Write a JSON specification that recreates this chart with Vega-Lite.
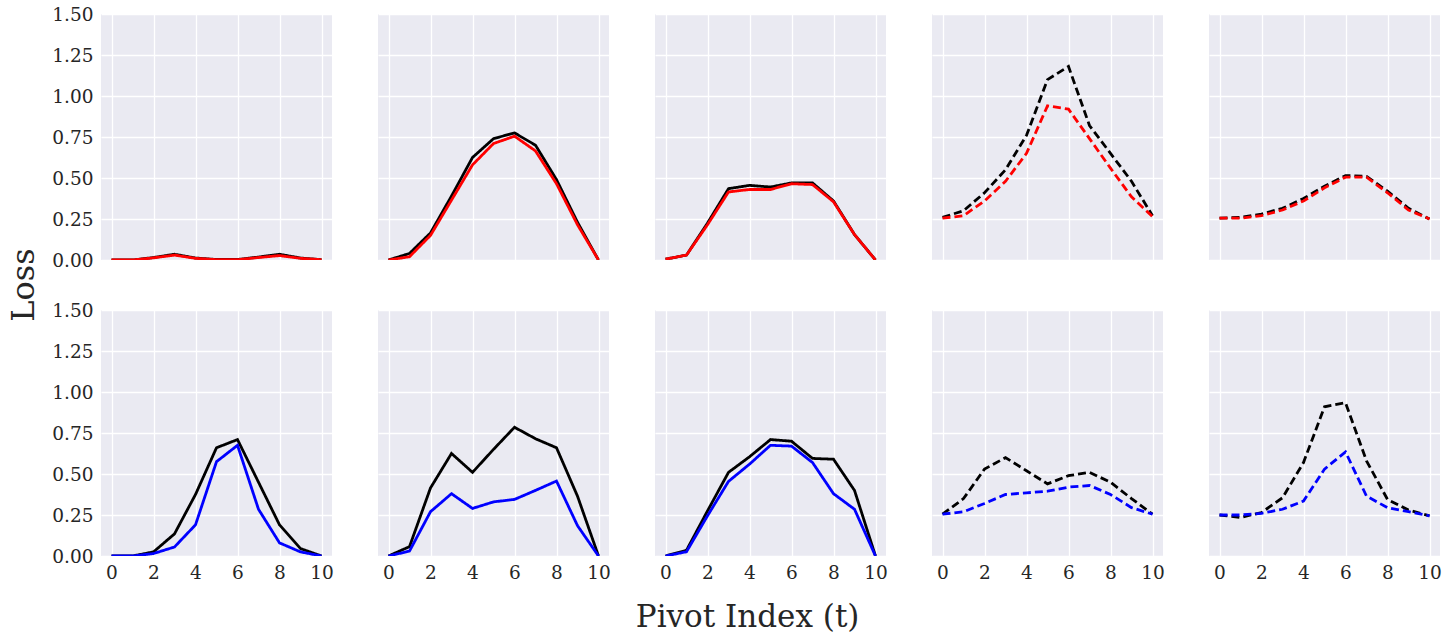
{
  "$schema": "https://vega.github.io/schema/vega-lite/v6.json",
  "padding": {"left": 8, "top": 5, "right": 5, "bottom": 5},
  "background": "white",
  "title": {"text": "Pivot Index (t)", "orient": "bottom", "anchor": "middle", "dx": 23, "offset": 21, "font": "DejaVu Serif", "fontSize": 31, "fontWeight": "normal", "color": "#262626"},
  "datasets": {
    "loss": [
      {"case":1,"setting":"top","method":"baseline","t":0,"loss":0},{"case":1,"setting":"top","method":"baseline","t":1,"loss":0},{"case":1,"setting":"top","method":"baseline","t":2,"loss":0.015},{"case":1,"setting":"top","method":"baseline","t":3,"loss":0.035},{"case":1,"setting":"top","method":"baseline","t":4,"loss":0.012},{"case":1,"setting":"top","method":"baseline","t":5,"loss":0.003},{"case":1,"setting":"top","method":"baseline","t":6,"loss":0.003},{"case":1,"setting":"top","method":"baseline","t":7,"loss":0.018},{"case":1,"setting":"top","method":"baseline","t":8,"loss":0.035},{"case":1,"setting":"top","method":"baseline","t":9,"loss":0.012},{"case":1,"setting":"top","method":"baseline","t":10,"loss":0.002},
      {"case":1,"setting":"top","method":"variant A","t":0,"loss":0},{"case":1,"setting":"top","method":"variant A","t":1,"loss":0},{"case":1,"setting":"top","method":"variant A","t":2,"loss":0.013},{"case":1,"setting":"top","method":"variant A","t":3,"loss":0.03},{"case":1,"setting":"top","method":"variant A","t":4,"loss":0.01},{"case":1,"setting":"top","method":"variant A","t":5,"loss":0.002},{"case":1,"setting":"top","method":"variant A","t":6,"loss":0.002},{"case":1,"setting":"top","method":"variant A","t":7,"loss":0.015},{"case":1,"setting":"top","method":"variant A","t":8,"loss":0.027},{"case":1,"setting":"top","method":"variant A","t":9,"loss":0.01},{"case":1,"setting":"top","method":"variant A","t":10,"loss":0.002},
      {"case":2,"setting":"top","method":"baseline","t":0,"loss":0},{"case":2,"setting":"top","method":"baseline","t":1,"loss":0.04},{"case":2,"setting":"top","method":"baseline","t":2,"loss":0.165},{"case":2,"setting":"top","method":"baseline","t":3,"loss":0.39},{"case":2,"setting":"top","method":"baseline","t":4,"loss":0.625},{"case":2,"setting":"top","method":"baseline","t":5,"loss":0.74},{"case":2,"setting":"top","method":"baseline","t":6,"loss":0.775},{"case":2,"setting":"top","method":"baseline","t":7,"loss":0.7},{"case":2,"setting":"top","method":"baseline","t":8,"loss":0.49},{"case":2,"setting":"top","method":"baseline","t":9,"loss":0.23},{"case":2,"setting":"top","method":"baseline","t":10,"loss":0},
      {"case":2,"setting":"top","method":"variant A","t":0,"loss":0},{"case":2,"setting":"top","method":"variant A","t":1,"loss":0.02},{"case":2,"setting":"top","method":"variant A","t":2,"loss":0.15},{"case":2,"setting":"top","method":"variant A","t":3,"loss":0.365},{"case":2,"setting":"top","method":"variant A","t":4,"loss":0.58},{"case":2,"setting":"top","method":"variant A","t":5,"loss":0.71},{"case":2,"setting":"top","method":"variant A","t":6,"loss":0.755},{"case":2,"setting":"top","method":"variant A","t":7,"loss":0.665},{"case":2,"setting":"top","method":"variant A","t":8,"loss":0.465},{"case":2,"setting":"top","method":"variant A","t":9,"loss":0.215},{"case":2,"setting":"top","method":"variant A","t":10,"loss":0},
      {"case":3,"setting":"top","method":"baseline","t":0,"loss":0.005},{"case":3,"setting":"top","method":"baseline","t":1,"loss":0.03},{"case":3,"setting":"top","method":"baseline","t":2,"loss":0.225},{"case":3,"setting":"top","method":"baseline","t":3,"loss":0.435},{"case":3,"setting":"top","method":"baseline","t":4,"loss":0.455},{"case":3,"setting":"top","method":"baseline","t":5,"loss":0.445},{"case":3,"setting":"top","method":"baseline","t":6,"loss":0.47},{"case":3,"setting":"top","method":"baseline","t":7,"loss":0.47},{"case":3,"setting":"top","method":"baseline","t":8,"loss":0.36},{"case":3,"setting":"top","method":"baseline","t":9,"loss":0.155},{"case":3,"setting":"top","method":"baseline","t":10,"loss":0},
      {"case":3,"setting":"top","method":"variant A","t":0,"loss":0.005},{"case":3,"setting":"top","method":"variant A","t":1,"loss":0.03},{"case":3,"setting":"top","method":"variant A","t":2,"loss":0.215},{"case":3,"setting":"top","method":"variant A","t":3,"loss":0.415},{"case":3,"setting":"top","method":"variant A","t":4,"loss":0.43},{"case":3,"setting":"top","method":"variant A","t":5,"loss":0.43},{"case":3,"setting":"top","method":"variant A","t":6,"loss":0.465},{"case":3,"setting":"top","method":"variant A","t":7,"loss":0.46},{"case":3,"setting":"top","method":"variant A","t":8,"loss":0.355},{"case":3,"setting":"top","method":"variant A","t":9,"loss":0.155},{"case":3,"setting":"top","method":"variant A","t":10,"loss":0},
      {"case":4,"setting":"top","method":"baseline","t":0,"loss":0.26},{"case":4,"setting":"top","method":"baseline","t":1,"loss":0.3},{"case":4,"setting":"top","method":"baseline","t":2,"loss":0.41},{"case":4,"setting":"top","method":"baseline","t":3,"loss":0.55},{"case":4,"setting":"top","method":"baseline","t":4,"loss":0.76},{"case":4,"setting":"top","method":"baseline","t":5,"loss":1.1},{"case":4,"setting":"top","method":"baseline","t":6,"loss":1.18},{"case":4,"setting":"top","method":"baseline","t":7,"loss":0.82},{"case":4,"setting":"top","method":"baseline","t":8,"loss":0.65},{"case":4,"setting":"top","method":"baseline","t":9,"loss":0.48},{"case":4,"setting":"top","method":"baseline","t":10,"loss":0.27},
      {"case":4,"setting":"top","method":"variant A","t":0,"loss":0.255},{"case":4,"setting":"top","method":"variant A","t":1,"loss":0.27},{"case":4,"setting":"top","method":"variant A","t":2,"loss":0.36},{"case":4,"setting":"top","method":"variant A","t":3,"loss":0.48},{"case":4,"setting":"top","method":"variant A","t":4,"loss":0.65},{"case":4,"setting":"top","method":"variant A","t":5,"loss":0.94},{"case":4,"setting":"top","method":"variant A","t":6,"loss":0.92},{"case":4,"setting":"top","method":"variant A","t":7,"loss":0.74},{"case":4,"setting":"top","method":"variant A","t":8,"loss":0.56},{"case":4,"setting":"top","method":"variant A","t":9,"loss":0.385},{"case":4,"setting":"top","method":"variant A","t":10,"loss":0.265},
      {"case":5,"setting":"top","method":"baseline","t":0,"loss":0.255},{"case":5,"setting":"top","method":"baseline","t":1,"loss":0.26},{"case":5,"setting":"top","method":"baseline","t":2,"loss":0.28},{"case":5,"setting":"top","method":"baseline","t":3,"loss":0.315},{"case":5,"setting":"top","method":"baseline","t":4,"loss":0.375},{"case":5,"setting":"top","method":"baseline","t":5,"loss":0.45},{"case":5,"setting":"top","method":"baseline","t":6,"loss":0.515},{"case":5,"setting":"top","method":"baseline","t":7,"loss":0.51},{"case":5,"setting":"top","method":"baseline","t":8,"loss":0.42},{"case":5,"setting":"top","method":"baseline","t":9,"loss":0.315},{"case":5,"setting":"top","method":"baseline","t":10,"loss":0.25},
      {"case":5,"setting":"top","method":"variant A","t":0,"loss":0.255},{"case":5,"setting":"top","method":"variant A","t":1,"loss":0.255},{"case":5,"setting":"top","method":"variant A","t":2,"loss":0.27},{"case":5,"setting":"top","method":"variant A","t":3,"loss":0.305},{"case":5,"setting":"top","method":"variant A","t":4,"loss":0.36},{"case":5,"setting":"top","method":"variant A","t":5,"loss":0.44},{"case":5,"setting":"top","method":"variant A","t":6,"loss":0.505},{"case":5,"setting":"top","method":"variant A","t":7,"loss":0.505},{"case":5,"setting":"top","method":"variant A","t":8,"loss":0.41},{"case":5,"setting":"top","method":"variant A","t":9,"loss":0.305},{"case":5,"setting":"top","method":"variant A","t":10,"loss":0.25},
      {"case":1,"setting":"bottom","method":"baseline","t":0,"loss":0},{"case":1,"setting":"bottom","method":"baseline","t":1,"loss":0},{"case":1,"setting":"bottom","method":"baseline","t":2,"loss":0.025},{"case":1,"setting":"bottom","method":"baseline","t":3,"loss":0.135},{"case":1,"setting":"bottom","method":"baseline","t":4,"loss":0.375},{"case":1,"setting":"bottom","method":"baseline","t":5,"loss":0.66},{"case":1,"setting":"bottom","method":"baseline","t":6,"loss":0.71},{"case":1,"setting":"bottom","method":"baseline","t":7,"loss":0.45},{"case":1,"setting":"bottom","method":"baseline","t":8,"loss":0.19},{"case":1,"setting":"bottom","method":"baseline","t":9,"loss":0.045},{"case":1,"setting":"bottom","method":"baseline","t":10,"loss":0},
      {"case":1,"setting":"bottom","method":"variant B","t":0,"loss":0},{"case":1,"setting":"bottom","method":"variant B","t":1,"loss":0},{"case":1,"setting":"bottom","method":"variant B","t":2,"loss":0.015},{"case":1,"setting":"bottom","method":"variant B","t":3,"loss":0.055},{"case":1,"setting":"bottom","method":"variant B","t":4,"loss":0.19},{"case":1,"setting":"bottom","method":"variant B","t":5,"loss":0.575},{"case":1,"setting":"bottom","method":"variant B","t":6,"loss":0.675},{"case":1,"setting":"bottom","method":"variant B","t":7,"loss":0.285},{"case":1,"setting":"bottom","method":"variant B","t":8,"loss":0.08},{"case":1,"setting":"bottom","method":"variant B","t":9,"loss":0.025},{"case":1,"setting":"bottom","method":"variant B","t":10,"loss":0},
      {"case":2,"setting":"bottom","method":"baseline","t":0,"loss":0},{"case":2,"setting":"bottom","method":"baseline","t":1,"loss":0.057},{"case":2,"setting":"bottom","method":"baseline","t":2,"loss":0.415},{"case":2,"setting":"bottom","method":"baseline","t":3,"loss":0.625},{"case":2,"setting":"bottom","method":"baseline","t":4,"loss":0.51},{"case":2,"setting":"bottom","method":"baseline","t":5,"loss":0.65},{"case":2,"setting":"bottom","method":"baseline","t":6,"loss":0.785},{"case":2,"setting":"bottom","method":"baseline","t":7,"loss":0.715},{"case":2,"setting":"bottom","method":"baseline","t":8,"loss":0.66},{"case":2,"setting":"bottom","method":"baseline","t":9,"loss":0.365},{"case":2,"setting":"bottom","method":"baseline","t":10,"loss":0},
      {"case":2,"setting":"bottom","method":"variant B","t":0,"loss":0},{"case":2,"setting":"bottom","method":"variant B","t":1,"loss":0.03},{"case":2,"setting":"bottom","method":"variant B","t":2,"loss":0.27},{"case":2,"setting":"bottom","method":"variant B","t":3,"loss":0.38},{"case":2,"setting":"bottom","method":"variant B","t":4,"loss":0.29},{"case":2,"setting":"bottom","method":"variant B","t":5,"loss":0.33},{"case":2,"setting":"bottom","method":"variant B","t":6,"loss":0.345},{"case":2,"setting":"bottom","method":"variant B","t":7,"loss":0.4},{"case":2,"setting":"bottom","method":"variant B","t":8,"loss":0.457},{"case":2,"setting":"bottom","method":"variant B","t":9,"loss":0.185},{"case":2,"setting":"bottom","method":"variant B","t":10,"loss":0},
      {"case":3,"setting":"bottom","method":"baseline","t":0,"loss":0},{"case":3,"setting":"bottom","method":"baseline","t":1,"loss":0.035},{"case":3,"setting":"bottom","method":"baseline","t":2,"loss":0.275},{"case":3,"setting":"bottom","method":"baseline","t":3,"loss":0.51},{"case":3,"setting":"bottom","method":"baseline","t":4,"loss":0.605},{"case":3,"setting":"bottom","method":"baseline","t":5,"loss":0.71},{"case":3,"setting":"bottom","method":"baseline","t":6,"loss":0.7},{"case":3,"setting":"bottom","method":"baseline","t":7,"loss":0.595},{"case":3,"setting":"bottom","method":"baseline","t":8,"loss":0.59},{"case":3,"setting":"bottom","method":"baseline","t":9,"loss":0.4},{"case":3,"setting":"bottom","method":"baseline","t":10,"loss":0},
      {"case":3,"setting":"bottom","method":"variant B","t":0,"loss":0},{"case":3,"setting":"bottom","method":"variant B","t":1,"loss":0.026},{"case":3,"setting":"bottom","method":"variant B","t":2,"loss":0.245},{"case":3,"setting":"bottom","method":"variant B","t":3,"loss":0.455},{"case":3,"setting":"bottom","method":"variant B","t":4,"loss":0.56},{"case":3,"setting":"bottom","method":"variant B","t":5,"loss":0.675},{"case":3,"setting":"bottom","method":"variant B","t":6,"loss":0.67},{"case":3,"setting":"bottom","method":"variant B","t":7,"loss":0.57},{"case":3,"setting":"bottom","method":"variant B","t":8,"loss":0.38},{"case":3,"setting":"bottom","method":"variant B","t":9,"loss":0.285},{"case":3,"setting":"bottom","method":"variant B","t":10,"loss":0},
      {"case":4,"setting":"bottom","method":"baseline","t":0,"loss":0.255},{"case":4,"setting":"bottom","method":"baseline","t":1,"loss":0.35},{"case":4,"setting":"bottom","method":"baseline","t":2,"loss":0.53},{"case":4,"setting":"bottom","method":"baseline","t":3,"loss":0.6},{"case":4,"setting":"bottom","method":"baseline","t":4,"loss":0.52},{"case":4,"setting":"bottom","method":"baseline","t":5,"loss":0.44},{"case":4,"setting":"bottom","method":"baseline","t":6,"loss":0.49},{"case":4,"setting":"bottom","method":"baseline","t":7,"loss":0.51},{"case":4,"setting":"bottom","method":"baseline","t":8,"loss":0.45},{"case":4,"setting":"bottom","method":"baseline","t":9,"loss":0.35},{"case":4,"setting":"bottom","method":"baseline","t":10,"loss":0.255},
      {"case":4,"setting":"bottom","method":"variant B","t":0,"loss":0.255},{"case":4,"setting":"bottom","method":"variant B","t":1,"loss":0.27},{"case":4,"setting":"bottom","method":"variant B","t":2,"loss":0.32},{"case":4,"setting":"bottom","method":"variant B","t":3,"loss":0.375},{"case":4,"setting":"bottom","method":"variant B","t":4,"loss":0.385},{"case":4,"setting":"bottom","method":"variant B","t":5,"loss":0.395},{"case":4,"setting":"bottom","method":"variant B","t":6,"loss":0.42},{"case":4,"setting":"bottom","method":"variant B","t":7,"loss":0.43},{"case":4,"setting":"bottom","method":"variant B","t":8,"loss":0.375},{"case":4,"setting":"bottom","method":"variant B","t":9,"loss":0.295},{"case":4,"setting":"bottom","method":"variant B","t":10,"loss":0.255},
      {"case":5,"setting":"bottom","method":"baseline","t":0,"loss":0.25},{"case":5,"setting":"bottom","method":"baseline","t":1,"loss":0.235},{"case":5,"setting":"bottom","method":"baseline","t":2,"loss":0.265},{"case":5,"setting":"bottom","method":"baseline","t":3,"loss":0.355},{"case":5,"setting":"bottom","method":"baseline","t":4,"loss":0.57},{"case":5,"setting":"bottom","method":"baseline","t":5,"loss":0.91},{"case":5,"setting":"bottom","method":"baseline","t":6,"loss":0.935},{"case":5,"setting":"bottom","method":"baseline","t":7,"loss":0.58},{"case":5,"setting":"bottom","method":"baseline","t":8,"loss":0.345},{"case":5,"setting":"bottom","method":"baseline","t":9,"loss":0.28},{"case":5,"setting":"bottom","method":"baseline","t":10,"loss":0.245},
      {"case":5,"setting":"bottom","method":"variant B","t":0,"loss":0.25},{"case":5,"setting":"bottom","method":"variant B","t":1,"loss":0.25},{"case":5,"setting":"bottom","method":"variant B","t":2,"loss":0.26},{"case":5,"setting":"bottom","method":"variant B","t":3,"loss":0.285},{"case":5,"setting":"bottom","method":"variant B","t":4,"loss":0.335},{"case":5,"setting":"bottom","method":"variant B","t":5,"loss":0.53},{"case":5,"setting":"bottom","method":"variant B","t":6,"loss":0.635},{"case":5,"setting":"bottom","method":"variant B","t":7,"loss":0.365},{"case":5,"setting":"bottom","method":"variant B","t":8,"loss":0.295},{"case":5,"setting":"bottom","method":"variant B","t":9,"loss":0.27},{"case":5,"setting":"bottom","method":"variant B","t":10,"loss":0.245}
    ]
  },
  "data": {"name": "loss"},
  "spacing": {"row": 50, "column": 46},
  "facet": {
    "row": {
      "field": "setting", "type": "nominal", "sort": ["top", "bottom"],
      "header": {"labels": false, "title": "Loss", "titleFont": "DejaVu Serif", "titleFontSize": 32, "titleFontWeight": "normal", "titleColor": "#262626", "titlePadding": 0}
    },
    "column": {
      "field": "case", "type": "ordinal",
      "header": {"labels": false, "title": null}
    }
  },
  "spec": {
    "width": 231,
    "height": 246,
    "mark": {"type": "line", "strokeWidth": 2.8, "clip": true},
    "encoding": {
      "x": {"field": "t", "type": "quantitative", "scale": {"domain": [-0.5, 10.5], "nice": false, "zero": false},
        "axis": {"values": [0, 2, 4, 6, 8, 10], "title": null}},
      "y": {"field": "loss", "type": "quantitative", "scale": {"domain": [0, 1.5], "nice": false},
        "axis": {"values": [0, 0.25, 0.5, 0.75, 1.0, 1.25, 1.5], "format": ".2f", "title": null}},
      "color": {"field": "method", "type": "nominal", "scale": {"domain": ["baseline", "variant A", "variant B"], "range": ["#000000", "#ff0000", "#0000ff"]}, "legend": null},
      "strokeDash": {"field": "case", "type": "ordinal", "scale": {"domain": [1, 2, 3, 4, 5], "range": [[1, 0], [1, 0], [1, 0], [8, 4], [8, 4]]}, "legend": null},
      "order": {"field": "t", "type": "quantitative"}
    }
  },
  "config": {
    "view": {"fill": "#EAEAF2", "stroke": null},
    "axis": {
      "grid": true, "gridColor": "#ffffff", "gridWidth": 1.3, "domain": false, "ticks": false,
      "labelFont": "DejaVu Serif", "labelFontSize": 18.5, "labelColor": "#262626", "labelPadding": 7
    },
    "axisY": {"labelPadding": 8}
  }
}
